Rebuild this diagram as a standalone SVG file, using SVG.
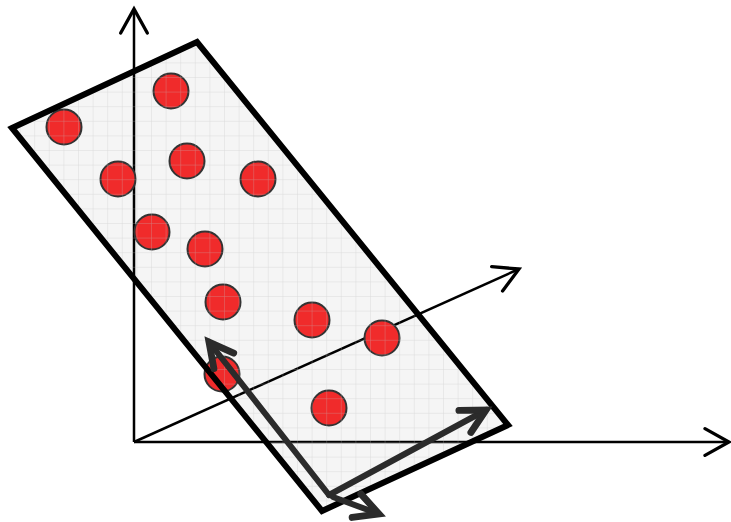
<svg xmlns="http://www.w3.org/2000/svg" width="731" height="522" viewBox="0 0 731 522">
<style>
.axis{stroke:#000;stroke-width:2.5;fill:none}
.pt{fill:#f02b2b;stroke:#333;stroke-width:2}
.bold{stroke:#2b2b2b;stroke-width:6;fill:none;stroke-linecap:round;stroke-linejoin:round}
.frame{fill:none;stroke:#000;stroke-width:6;stroke-linejoin:miter}
</style>
<defs>
<marker id="ah" markerUnits="userSpaceOnUse" markerWidth="40" markerHeight="40" viewBox="-25 -15 30 30" refX="0" refY="0" orient="auto" overflow="visible">
<path d="M -18 -10 L 0 0 L -18 10" fill="none" stroke="#000" stroke-width="2.5" stroke-linecap="round" stroke-linejoin="miter"/>
</marker>
<marker id="bh" markerUnits="userSpaceOnUse" markerWidth="40" markerHeight="40" viewBox="-30 -15 35 30" refX="0" refY="0" orient="auto" overflow="visible">
<path d="M -21 -11 L 0 0 L -21 11" fill="none" stroke="#2b2b2b" stroke-width="6" stroke-linecap="round" stroke-linejoin="miter"/>
</marker>
<pattern id="grid" patternUnits="userSpaceOnUse" x="5" y="4" width="14.6" height="14.6">
<path d="M 0 0 H 14.6 M 0 0 V 14.6" stroke="#c0c0c0" stroke-width="1" fill="none"/>
</pattern>
<clipPath id="rc"><polygon points="12,128 197,42 508,425 322,511"/></clipPath>
</defs>
<g id="plane-fill">
<polygon points="12,128 197,42 508,425 322,511" fill="#f5f5f5"/>
</g>
<g id="connectors">
<line class="axis" x1="134" y1="442" x2="134" y2="9" marker-end="url(#ah)"/>
<line class="axis" x1="134" y1="442" x2="729" y2="442" marker-end="url(#ah)"/>
<line class="axis" x1="134" y1="442" x2="519" y2="269" marker-end="url(#ah)"/>
</g>
<g id="points">
<circle class="pt" cx="171" cy="91" r="17.5"/>
<circle class="pt" cx="64" cy="127" r="17.5"/>
<circle class="pt" cx="187" cy="161" r="17.5"/>
<circle class="pt" cx="118" cy="179" r="17.5"/>
<circle class="pt" cx="258" cy="179" r="17.5"/>
<circle class="pt" cx="152" cy="232" r="17.5"/>
<circle class="pt" cx="205" cy="249" r="17.5"/>
<circle class="pt" cx="223" cy="302" r="17.5"/>
<circle class="pt" cx="312" cy="320" r="17.5"/>
<circle class="pt" cx="382" cy="338" r="17.5"/>
<circle class="pt" cx="222" cy="374" r="17.5"/>
<circle class="pt" cx="329" cy="408" r="17.5"/>
</g>
<g id="grid-overlay" clip-path="url(#rc)">
<rect x="0" y="0" width="731" height="522" fill="url(#grid)" opacity="0.5"/>
</g>
<g id="plane">
<polygon class="frame" points="12,128 197,42 508,425 322,511"/>
</g>
<g id="basis-arrows">
<line class="bold" x1="329" y1="495" x2="209" y2="342" marker-end="url(#bh)"/>
<line class="bold" x1="329" y1="495" x2="486" y2="410" marker-end="url(#bh)"/>
<line class="bold" x1="333" y1="497" x2="379" y2="514" marker-end="url(#bh)"/>
</g>
</svg>
